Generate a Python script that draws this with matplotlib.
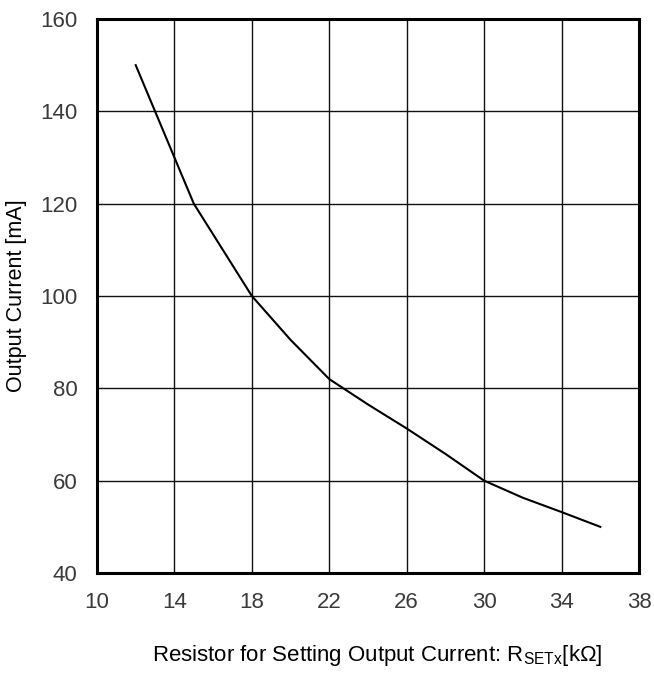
import matplotlib
matplotlib.use("Agg")
import matplotlib.pyplot as plt

plt.rcParams['font.family'] = ['Liberation Sans', 'DejaVu Sans']
plt.rcParams['mathtext.fontset'] = 'custom'
plt.rcParams['mathtext.rm'] = 'Liberation Sans'

# data
resistance_kohm = [12, 15, 18, 20, 22, 24, 26, 28, 30, 32, 34, 36]
output_current_ma = [150, 120, 100, 90.5, 82, 76.5, 71.3, 65.8, 60, 56.3, 53.2, 50]
x_ticks = [10, 14, 18, 22, 26, 30, 34, 38]
y_ticks = [40, 60, 80, 100, 120, 140, 160]

fig = plt.figure(figsize=(6.54, 6.75), dpi=100)
ax = fig.add_axes([97/654, (675-573)/675, (639-97)/654, (573-19)/675])

ax.plot(resistance_kohm, output_current_ma, color='black', linewidth=1.5)
ax.set_xlim(10, 38)
ax.set_ylim(40, 160)
ax.set_xticks(x_ticks)
ax.set_yticks(y_ticks)
ax.grid(True, color='#111111', linewidth=1.0)
ax.set_axisbelow(True)
for s in ax.spines.values():
    s.set_linewidth(2.2)
    s.set_color('black')
ax.tick_params(axis='both', length=0, labelsize=16, labelcolor='#3a3a3a')
ax.tick_params(axis='x', pad=14)
ax.tick_params(axis='y', pad=14)

fig.text(17/654, 1 - 296/675, 'Output Current [mA]', rotation=90,
         ha='center', va='center', fontsize=15.5)
fig.text(377/654, 1 - 655/675, r'Resistor for Setting Output Current: R$\mathregular{_{SETx}}$[kΩ]',
         ha='center', va='center', fontsize=16)

fig.savefig('out.png', dpi=100)
